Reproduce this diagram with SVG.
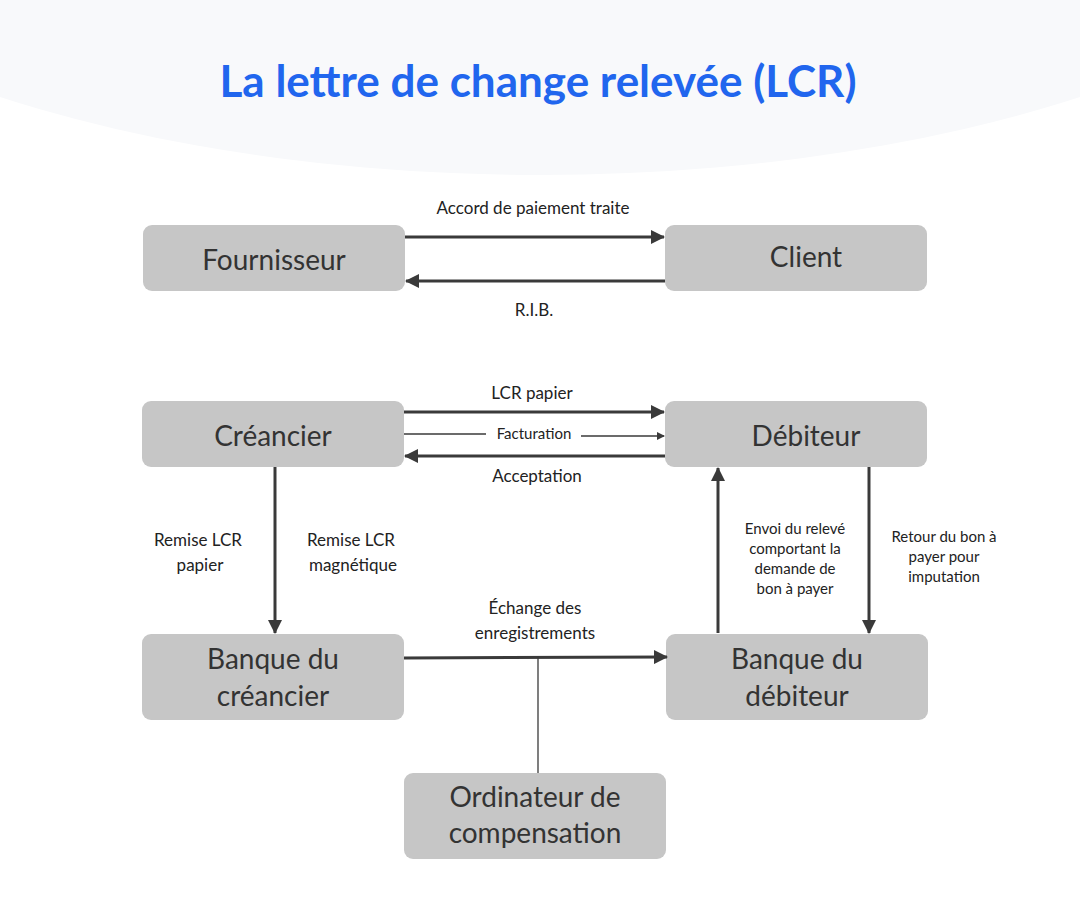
<svg xmlns="http://www.w3.org/2000/svg" width="1080" height="912" viewBox="0 0 1080 912">
<defs>
<marker id="ah" markerWidth="8" markerHeight="8" refX="7" refY="4" orient="auto" markerUnits="userSpaceOnUse" viewBox="0 0 8 8"><path d="M0,0 L8,4 L0,8 Z" fill="#3a3a3a"/></marker>
<marker id="ahb" markerWidth="14" markerHeight="14" refX="13" refY="7" orient="auto" markerUnits="userSpaceOnUse" viewBox="0 0 14 14"><path d="M0,0 L14,7 L0,14 Z" fill="#3a3a3a"/></marker>
<style>
.n{fill:#c6c6c6}
.t{font-family:Lato,"Open Sans",sans-serif;font-size:28px;fill:#333;text-anchor:middle}
.l{font-family:Lato,"Open Sans",sans-serif;font-size:17px;fill:#222;text-anchor:middle}
.s{font-family:Lato,"Open Sans",sans-serif;font-size:15px;fill:#222;text-anchor:middle}
.c{stroke:#3a3a3a;stroke-width:3;fill:none}
.c1{stroke:#3a3a3a;stroke-width:1.3;fill:none}
</style>
</defs>
<rect width="1080" height="912" fill="#fff"/>
<ellipse cx="540" cy="-215" rx="900" ry="390" fill="#f8f9fb"/>
<text x="538" y="97" font-family="Lato,'Open Sans',sans-serif" font-size="44" font-weight="bold" fill="#2166ee" text-anchor="middle">La lettre de change relevée (LCR)</text>
<g id="fournisseur"><rect class="n" x="143" y="225" width="262" height="66" rx="9"/><text class="t" x="274" y="270">Fournisseur</text></g>
<g id="client"><rect class="n" x="665" y="225" width="262" height="66" rx="9"/><text class="t" x="806" y="267">Client</text></g>
<g id="creancier"><rect class="n" x="142" y="401" width="262" height="66" rx="9"/><text class="t" x="273" y="446">Créancier</text></g>
<g id="debiteur"><rect class="n" x="665" y="401" width="262" height="66" rx="9"/><text class="t" x="806" y="446">Débiteur</text></g>
<g id="banque-creancier"><rect class="n" x="142" y="634" width="262" height="86" rx="9"/><text class="t" x="273" y="669">Banque du</text><text class="t" x="273" y="706">créancier</text></g>
<g id="banque-debiteur"><rect class="n" x="666" y="634" width="262" height="86" rx="9"/><text class="t" x="797" y="669">Banque du</text><text class="t" x="797" y="706">débiteur</text></g>
<g id="ordinateur"><rect class="n" x="404" y="773" width="262" height="86" rx="9"/><text class="t" x="535" y="807">Ordinateur de</text><text class="t" x="535" y="843">compensation</text></g>
<g id="connectors">
<line class="c" x1="405" y1="237" x2="664" y2="237" marker-end="url(#ahb)"/>
<text class="l" x="533" y="214">Accord de paiement traite</text>
<line class="c" x1="665" y1="281" x2="406" y2="281" marker-end="url(#ahb)"/>
<text class="l" x="534" y="316">R.I.B.</text>
<line class="c" x1="404" y1="412" x2="664" y2="412" marker-end="url(#ahb)"/>
<text class="l" x="532" y="399">LCR papier</text>
<line class="c1" x1="404" y1="434" x2="486" y2="434"/>
<line class="c1" x1="581" y1="436" x2="664" y2="436" marker-end="url(#ah)"/>
<text class="s" x="534" y="439">Facturation</text>
<line class="c" x1="665" y1="456" x2="405" y2="456" marker-end="url(#ahb)"/>
<text class="l" x="537" y="482">Acceptation</text>
<line class="c" x1="275" y1="467" x2="275" y2="633" marker-end="url(#ahb)"/>
<text class="l" x="198" y="546">Remise LCR</text><text class="l" x="200" y="571">papier</text>
<text class="l" x="351" y="546">Remise LCR</text><text class="l" x="353" y="571">magnétique</text>
<line class="c" x1="404" y1="658" x2="667" y2="657" marker-end="url(#ahb)"/>
<text class="l" x="535" y="614">Échange des</text><text class="l" x="535" y="639">enregistrements</text>
<line class="c1" x1="538" y1="657" x2="538" y2="773"/>
<line class="c" x1="718" y1="633" x2="718" y2="468" marker-end="url(#ahb)"/>
<text class="s" x="795" y="534">Envoi du relevé</text><text class="s" x="795" y="554">comportant la</text><text class="s" x="795" y="574">demande de</text><text class="s" x="795" y="594">bon à payer</text>
<line class="c" x1="869" y1="467" x2="869" y2="633" marker-end="url(#ahb)"/>
<text class="s" x="944" y="542">Retour du bon à</text><text class="s" x="944" y="562">payer pour</text><text class="s" x="944" y="582">imputation</text>
</g>
</svg>
